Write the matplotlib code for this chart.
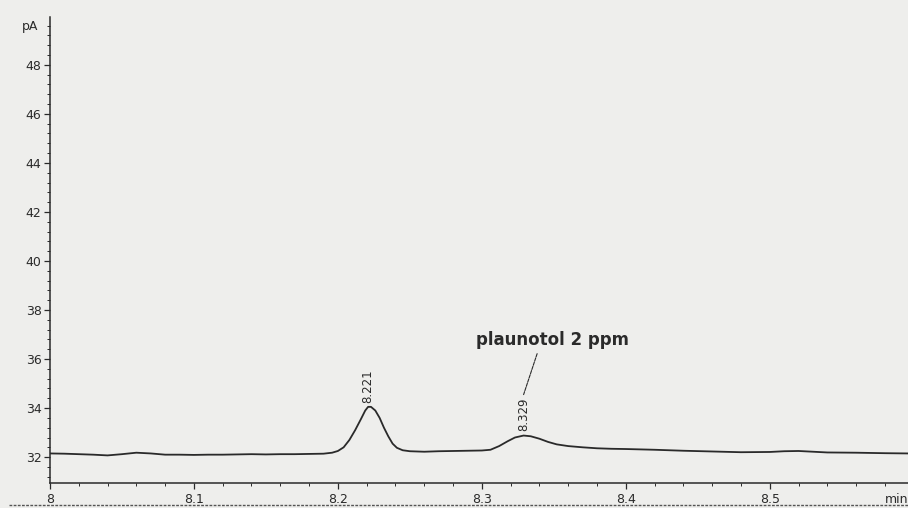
import matplotlib.pyplot as plt
from matplotlib.ticker import MultipleLocator
from matplotlib.lines import Line2D

# retention time (min) and detector signal (pA)
time_min = [8.000, 8.010, 8.020, 8.030, 8.040, 8.050, 8.060, 8.070, 8.080, 8.090,
            8.100, 8.110, 8.120, 8.130, 8.140, 8.150, 8.160, 8.170, 8.180, 8.190,
            8.196, 8.200, 8.204, 8.208, 8.212, 8.216, 8.219, 8.221, 8.223, 8.226,
            8.229, 8.232, 8.235, 8.238, 8.241, 8.245, 8.250, 8.260, 8.270, 8.280,
            8.290, 8.300, 8.306, 8.312, 8.318, 8.323, 8.329, 8.334, 8.340, 8.346,
            8.352, 8.360, 8.370, 8.380, 8.390, 8.400, 8.420, 8.440, 8.460, 8.480,
            8.500, 8.510, 8.520, 8.530, 8.540, 8.560, 8.580, 8.596]
signal_pA = [32.15, 32.14, 32.12, 32.10, 32.07, 32.12, 32.18, 32.15, 32.10, 32.10,
             32.09, 32.10, 32.10, 32.11, 32.12, 32.11, 32.12, 32.12, 32.13, 32.14,
             32.18, 32.25, 32.40, 32.70, 33.10, 33.55, 33.90, 34.05, 34.05, 33.90,
             33.60, 33.20, 32.85, 32.55, 32.38, 32.28, 32.24, 32.22, 32.24, 32.25,
             32.26, 32.27, 32.30, 32.45, 32.65, 32.80, 32.88, 32.85, 32.75, 32.62,
             32.52, 32.45, 32.40, 32.36, 32.34, 32.33, 32.30, 32.26, 32.23, 32.20,
             32.21, 32.24, 32.25, 32.22, 32.19, 32.18, 32.16, 32.15]

peak_times = [8.221, 8.329]
peak_heights = [34.05, 32.88]
compound = "plaunotol 2 ppm"

x_ticks = [8.0, 8.1, 8.2, 8.3, 8.4, 8.5]
x_tick_labels = ["8", "8.1", "8.2", "8.3", "8.4", "8.5"]
y_ticks = [32, 34, 36, 38, 40, 42, 44, 46, 48]

paper = "#eeeeec"
ink = "#2a2a2a"

fig = plt.figure(figsize=(9.08, 5.08), dpi=100, facecolor=paper)
ax = fig.add_axes([0.055, 0.049, 0.945, 0.918], facecolor=paper)

ax.plot(time_min, signal_pA, color=ink, lw=1.3)

ax.set_xlim(8.0, 8.596)
ax.set_ylim(30.94, 49.96)

ax.set_xticks(x_ticks)
ax.set_xticklabels(x_tick_labels)
ax.set_yticks(y_ticks)
ax.xaxis.set_minor_locator(MultipleLocator(0.02))
ax.yaxis.set_minor_locator(MultipleLocator(0.4))

ax.tick_params(axis="both", which="major", direction="out", length=4, width=0.9,
               colors=ink, labelsize=9, pad=2)
ax.tick_params(axis="both", which="minor", direction="out", length=2, width=0.7,
               colors=ink)
ax.tick_params(axis="x", pad=3)

for side in ["top", "right"]:
    ax.spines[side].set_visible(False)
for side in ["left", "bottom"]:
    ax.spines[side].set_color(ink)
    ax.spines[side].set_linewidth(1.1)

# unit labels
fig.text(0.033, 0.947, "pA", fontsize=9, color=ink, ha="center", va="center")
fig.text(0.988, 0.016, "min", fontsize=9, color=ink, ha="center", va="center")

# retention time labels above the peaks
for t, h in zip(peak_times, peak_heights):
    ax.annotate(f"{t:.3f}", xy=(t, h), xytext=(0, 3), textcoords="offset points",
                rotation=90, ha="center", va="bottom", fontsize=8.5, color=ink)

# compound name with leader line down to the second peak label
ax.annotate(compound, xy=(peak_times[1], 34.55),
            xytext=(8.349, 36.78), textcoords="data",
            ha="center", va="center", fontsize=12, fontweight="bold", color=ink,
            arrowprops=dict(arrowstyle="-", color=ink, lw=0.8, ls=(0, (3, 1)),
                            relpos=(0.43, 0.5), shrinkA=1.5, shrinkB=0))

# edge of the printout
fig.add_artist(Line2D([0.01, 1.0], [0.006, 0.006], transform=fig.transFigure,
                      color="#555555", lw=1.0, ls=(0, (2, 1))))

fig.savefig("out.png", dpi=100, facecolor=paper)
